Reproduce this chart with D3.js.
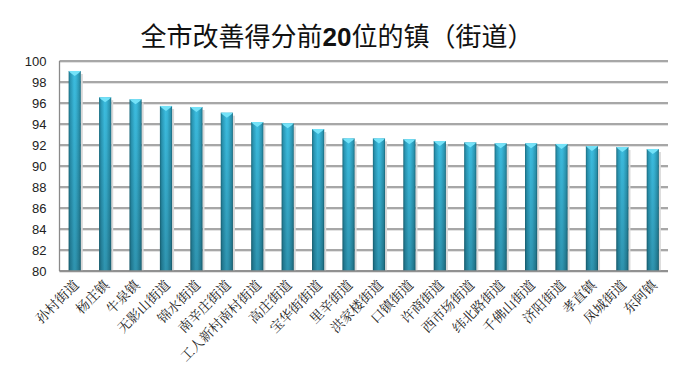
<!DOCTYPE html>
<html><head><meta charset="utf-8">
<script src="https://cdn.jsdelivr.net/npm/d3@7"></script>
<style>body{margin:0;background:#fff;}svg{display:block;}</style>
</head><body>
<svg id="c" width="700" height="375"></svg>
<script>
const title = "全市改善得分前20位的镇（街道）";
const categories = ["孙村街道","杨庄镇","牛泉镇","无影山街道","锦水街道","南辛庄街道","工人新村南村街道","高庄街道","宝华街街道","里辛街道","洪家楼街道","口镇街道","许商街道","西市场街道","纬北路街道","千佛山街道","济阳街道","孝直镇","凤城街道","东阿镇"];
const values = [99.05,96.55,96.35,95.72,95.62,95.08,94.19,94.06,93.52,92.63,92.63,92.55,92.38,92.25,92.16,92.16,92.1,91.9,91.81,91.62];
const yTicks = [80,82,84,86,88,90,92,94,96,98,100];

const svg = d3.select("#c");
const L = 59.5, R = 668, T = 61, B = 271;
const x = d3.scaleBand().domain(categories).range([L, R]).paddingInner(0.6).paddingOuter(0.3);
const y = d3.scaleLinear().domain([80, 100]).range([B, T]);

const defs = svg.append("defs");
const g1 = defs.append("linearGradient").attr("id","barH").attr("x1","0").attr("x2","1").attr("y1","0").attr("y2","0");
[[0,"#1b6e82"],[0.15,"#2a98b6"],[0.45,"#3cbde0"],[0.6,"#3ab8da"],[0.88,"#2a94b0"],[1,"#1a6a7e"]].forEach(s=>g1.append("stop").attr("offset",s[0]).attr("stop-color",s[1]));
const g2 = defs.append("linearGradient").attr("id","barV").attr("x1","0").attr("x2","0").attr("y1","0").attr("y2","1");
[[0,"#000",0],[1,"#000",0.22]].forEach(s=>g2.append("stop").attr("offset",s[0]).attr("stop-color",s[1]).attr("stop-opacity",s[2]));

// title
svg.append("text").attr("x", 337).attr("y", 46).attr("text-anchor","middle")
  .attr("font-family","'Noto Sans CJK SC', sans-serif").attr("font-size", 26).attr("fill","#111")
  .selectAll("tspan").data([["全市改善得分前","normal"],["20","bold"],["位的镇（街道）","normal"]]).join("tspan")
  .attr("font-weight", d=>d[1]).attr("font-family", d=>d[1]==="bold" ? "'Liberation Sans', sans-serif" : null).text(d=>d[0]);

// gridlines
const grid = svg.append("g");
grid.selectAll("line.sh").data(yTicks).join("line").attr("class","sh")
  .attr("x1", L).attr("x2", R).attr("y1", d=>y(d)+1.5).attr("y2", d=>y(d)+1.5)
  .attr("stroke","#e2e2e2").attr("stroke-width",1.2);
grid.selectAll("line.gl").data(yTicks).join("line").attr("class","gl")
  .attr("x1", L).attr("x2", R).attr("y1", d=>y(d)).attr("y2", d=>y(d))
  .attr("stroke","#8a8a8a").attr("stroke-width",1.3);
svg.append("line").attr("x1", L).attr("x2", L).attr("y1", T).attr("y2", B).attr("stroke","#8a8a8a").attr("stroke-width",1.3);

// y axis labels
const yAxis = d3.axisLeft(y).tickValues(yTicks).tickSize(0).tickPadding(0);
const ya = svg.append("g").attr("transform", `translate(${L-13},0)`).call(yAxis);
ya.select(".domain").remove();
ya.selectAll("text").attr("font-family","'Liberation Sans', Arial, sans-serif").attr("font-size",13).attr("fill","#222");

// bars
const bars = svg.append("g");
const bw = x.bandwidth();
bars.selectAll("rect.shadow").data(values).join("rect").attr("class","shadow")
  .attr("x",(d,i)=>x(categories[i])+bw).attr("y",d=>y(d)+3).attr("width",2).attr("height",d=>B-y(d)-3)
  .attr("fill","#d8d8d8");
bars.selectAll("rect.b").data(values).join("rect").attr("class","b")
  .attr("x",(d,i)=>x(categories[i])).attr("y",d=>y(d)).attr("width",bw).attr("height",d=>B-y(d))
  .attr("fill","url(#barH)");
bars.selectAll("rect.v").data(values).join("rect").attr("class","v")
  .attr("x",(d,i)=>x(categories[i])).attr("y",d=>y(d)).attr("width",bw).attr("height",d=>B-y(d))
  .attr("fill","url(#barV)");
bars.selectAll("path.cap").data(values).join("path").attr("class","cap")
  .attr("d",(d,i)=>{const x0=x(categories[i]), y0=y(d); return `M${x0},${y0}L${x0+bw},${y0}L${x0+bw-2},${y0+2}L${x0+bw/2},${y0+5}L${x0+2},${y0+2}Z`;})
  .attr("fill","#74e2f8");

// bottom axis line
svg.append("line").attr("x1", L).attr("x2", R).attr("y1", B).attr("y2", B).attr("stroke","#8a8a8a").attr("stroke-width",1.3);

// x labels
const xAxis = d3.axisBottom(x).tickSize(0).tickPadding(0);
const xa = svg.append("g").attr("transform",`translate(0,${B})`).call(xAxis);
xa.select(".domain").remove();
xa.selectAll("text")
  .attr("font-family","'Noto Serif CJK SC','Noto Sans CJK SC', serif").attr("font-size",13.5).attr("fill","#222")
  .attr("text-anchor","end").attr("dy",null).attr("y",0)
  .attr("transform","translate(5,15) rotate(-45)");
</script>
</body></html>
